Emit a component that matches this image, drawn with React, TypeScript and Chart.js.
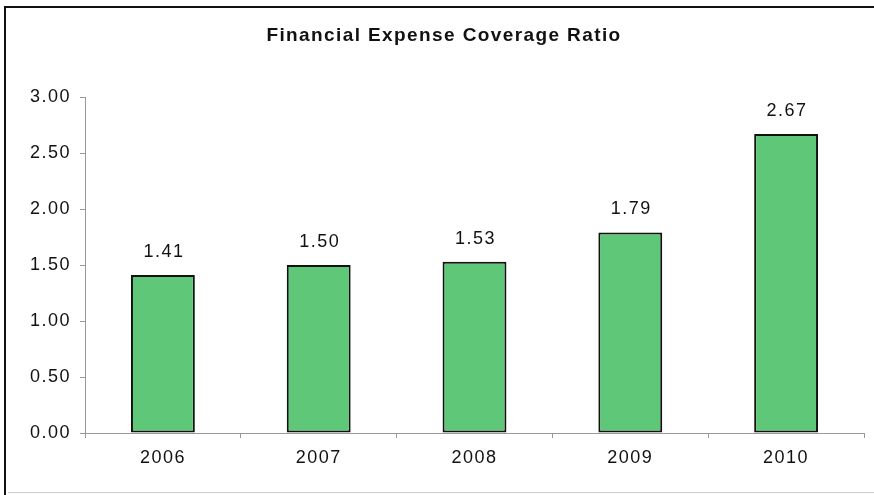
import { useEffect, useRef } from 'react';
import { Chart, registerables } from 'chart.js';

Chart.register(...registerables);

const chartTitle = 'Financial Expense Coverage Ratio';
const years = ['2006', '2007', '2008', '2009', '2010'];
const ratios = [1.41, 1.5, 1.53, 1.79, 2.67];
const yMin = 0;
const yMax = 3;
const yStep = 0.5;

const FONT = "'Liberation Sans', Arial, sans-serif";
const SPACING = '1.5px';

const framePlugin = {
  id: 'frame',
  beforeDraw(chart: any) {
    const ctx = chart.ctx;
    ctx.save();
    ctx.fillStyle = '#ffffff';
    ctx.fillRect(0, 0, chart.width, chart.height);
    ctx.strokeStyle = '#111111';
    ctx.lineWidth = 2;
    ctx.beginPath();
    ctx.moveTo(4, 7);
    ctx.lineTo(chart.width, 7);
    ctx.moveTo(5, 7);
    ctx.lineTo(5, chart.height);
    ctx.stroke();
    ctx.strokeStyle = '#cccccc';
    ctx.lineWidth = 1;
    ctx.beginPath();
    ctx.moveTo(8, 492.5);
    ctx.lineTo(chart.width, 492.5);
    ctx.stroke();
    ctx.restore();
    (ctx as any).letterSpacing = SPACING;
  },
  afterDraw(chart: any) {
    const ctx = chart.ctx;
    ctx.save();
    (ctx as any).letterSpacing = '1.4px';
    ctx.font = `bold 19px ${FONT}`;
    ctx.fillStyle = '#111111';
    ctx.textAlign = 'center';
    ctx.textBaseline = 'middle';
    ctx.fillText(chartTitle, 444, 36);
    ctx.restore();
  },
};

const valueLabelPlugin = {
  id: 'valueLabels',
  afterDatasetsDraw(chart: any) {
    const ctx = chart.ctx;
    const meta = chart.getDatasetMeta(0);
    ctx.save();
    (ctx as any).letterSpacing = SPACING;
    ctx.font = `18px ${FONT}`;
    ctx.fillStyle = '#111111';
    ctx.textAlign = 'center';
    ctx.textBaseline = 'middle';
    meta.data.forEach((bar: any, i: number) => {
      ctx.fillText(ratios[i].toFixed(2), bar.x + 1, bar.y - 23);
    });
    ctx.restore();
  },
};

export default function App() {
  const canvasRef = useRef<HTMLCanvasElement | null>(null);

  useEffect(() => {
    const canvas = canvasRef.current;
    if (!canvas) return;
    const chart = new Chart(canvas, {
      type: 'bar',
      data: {
        labels: years,
        datasets: [
          {
            data: ratios,
            backgroundColor: '#5fc878',
            borderColor: '#111111',
            borderWidth: 2,
            borderSkipped: false,
            barPercentage: 0.41,
            categoryPercentage: 1,
          },
        ],
      },
      options: {
        animation: false,
        responsive: false,
        maintainAspectRatio: false,
        layout: { padding: { top: 97, right: 10, left: 0, bottom: 0 } },
        plugins: {
          legend: { display: false },
          title: { display: false },
          tooltip: { enabled: false },
        },
        scales: {
          x: {
            grid: {
              display: true,
              offset: true,
              drawOnChartArea: false,
              drawTicks: true,
              tickLength: 5,
              color: '#999999',
            },
            border: { display: true, color: '#999999', width: 1 },
            ticks: {
              color: '#111111',
              font: { family: FONT, size: 18 },
              padding: 9,
            },
            afterFit(axis: any) {
              axis.height = 62;
            },
          },
          y: {
            min: yMin,
            max: yMax,
            grid: {
              display: true,
              drawOnChartArea: false,
              drawTicks: true,
              tickLength: 5,
              color: '#999999',
            },
            border: { display: true, color: '#999999', width: 1 },
            ticks: {
              stepSize: yStep,
              color: '#111111',
              font: { family: FONT, size: 18 },
              padding: 9,
              callback: (v: any) => Number(v).toFixed(2),
            },
            afterFit(axis: any) {
              axis.width = 85;
            },
          },
        },
      },
      plugins: [framePlugin, valueLabelPlugin],
    });
    return () => chart.destroy();
  }, []);

  return (
    <div style={{ position: 'fixed', left: 0, top: 0, width: 874, height: 495, background: '#fff' }}>
      <canvas ref={canvasRef} width={874} height={495} style={{ display: 'block', width: 874, height: 495 }} />
    </div>
  );
}
